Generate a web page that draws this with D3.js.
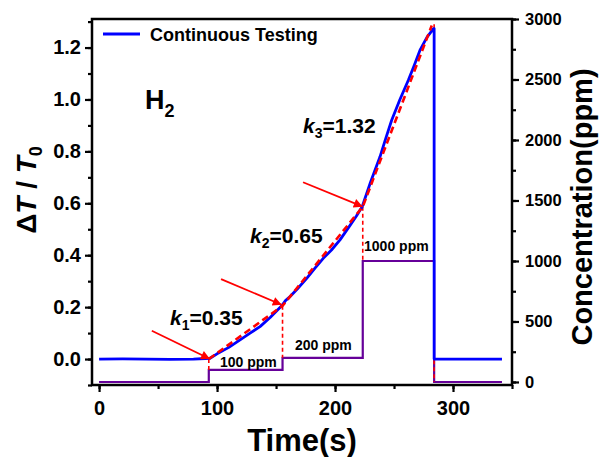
<!DOCTYPE html>
<html><head><meta charset="utf-8">
<script src="https://cdn.jsdelivr.net/npm/d3@7"></script>
<style>
body{margin:0;background:#fff;}
text{font-family:"Liberation Sans",Arial,sans-serif;font-weight:bold;}
</style></head>
<body><svg id="c" width="600" height="457"></svg>
<script>
// ---- data ----
const blueTime = [0,20,40,60,80,90,94,100,110,119.5,128,136.4,145,154.8,158,161.9,168,176,183,190,197,204.2,212,218,223,230,238.1,243,248,255,262.1,267,272,278,283.5,284,284,300,320,341.5];
const blueVal  = [0,0.001,0,-0.001,0,0.002,0.003,0.02,0.045,0.074,0.1,0.125,0.16,0.205,0.225,0.241,0.27,0.311,0.35,0.388,0.42,0.459,0.51,0.55,0.587,0.68,0.779,0.85,0.92,1.0,1.074,1.13,1.19,1.24,1.273,1.273,0,0,0,0];
const concTime = [0,93,93,155.5,155.5,223.5,223.5,284,284,341.5];
const concVal  = [0,0,100,100,200,200,1000,1000,0,0];
const fitTime = [93,155.5,223.5,282];
const fitVal  = [0,0.205,0.587,1.285];
const dropTime = [93,155.5,223.5,284];
const dropTop  = [0,0.205,0.587,1.29];
const dropBottomPpm = [100,200,1000,0];
const arrowFrom = [[44.7,0.109],[103.4,0.308],[172.9,0.681]];
const arrowTo   = [[94,0.0],[154.8,0.209],[223.5,0.587]];
const kLabels = ["1","2","3"];
const kValues = ["0.35","0.65","1.32"];
const kPos = [[60.2,0.132],[128,0.446],[172.9,0.869]];
const ppmLabels = ["100 ppm","200 ppm","1000 ppm"];
const ppmPos = [[102.5,126],[166,264],[224.6,1085]];
const xTicks = [0,100,200,300];
const xMinor = [0,50,100,150,200,250,300,350];
const yLTicks = [0,0.2,0.4,0.6,0.8,1.0,1.2];
const yLMinor = [-0.1,0,0.1,0.2,0.3,0.4,0.5,0.6,0.7,0.8,0.9,1.0,1.1,1.2,1.3];
const yRTicks = [0,500,1000,1500,2000,2500,3000];
const yRMinor = [0,250,500,750,1000,1250,1500,1750,2000,2250,2500,2750,3000];

// ---- layout ----
const L=92, R=512, T=19, B=385;
const svg = d3.select("#c");
const x = d3.scaleLinear().domain([-6,350]).range([L,R]);
const yL = d3.scaleLinear().domain([-0.1,1.31]).range([B,T]);
const yR = d3.scaleLinear().domain([-25,3000]).range([B,T]);

const blue="#0000ff", red="#ff0000", purple="#660099";

// axes
function styleAxis(g){
  g.select(".domain").remove();
  g.selectAll("line").attr("stroke","#000").attr("stroke-width",2.2);
  g.selectAll("text").attr("fill","#000");
}
svg.append("g").attr("transform",`translate(0,${B})`)
  .call(d3.axisBottom(x).tickValues(xMinor).tickSize(4).tickFormat("")).call(styleAxis);
svg.append("g").attr("transform",`translate(0,${B})`)
  .call(d3.axisBottom(x).tickValues(xTicks).tickSize(7).tickPadding(9).tickFormat(d3.format("d")))
  .call(styleAxis).selectAll("text").style("font-size","20px");
svg.append("g").attr("transform",`translate(${L},0)`)
  .call(d3.axisLeft(yL).tickValues(yLMinor).tickSize(4).tickFormat("")).call(styleAxis);
svg.append("g").attr("transform",`translate(${L},0)`)
  .call(d3.axisLeft(yL).tickValues(yLTicks).tickSize(7).tickPadding(4).tickFormat(d3.format(".1f")))
  .call(styleAxis).selectAll("text").style("font-size","20px");
svg.append("g").attr("transform",`translate(${R},0)`)
  .call(d3.axisRight(yR).tickValues(yRMinor).tickSize(4).tickFormat("")).call(styleAxis);
svg.append("g").attr("transform",`translate(${R},0)`)
  .call(d3.axisRight(yR).tickValues(yRTicks).tickSize(7).tickPadding(6).tickFormat(d3.format("d")))
  .call(styleAxis).selectAll("text").style("font-size","16.5px");

// frame
svg.append("rect").attr("x",L).attr("y",T).attr("width",R-L).attr("height",B-T)
  .attr("fill","none").attr("stroke","#000").attr("stroke-width",2.5);

// concentration
const concData = concTime.map((t,i)=>[t,concVal[i]]);
svg.append("path").datum(concData)
  .attr("d",d3.line().x(d=>x(d[0])).y(d=>yR(d[1])))
  .attr("fill","none").attr("stroke",purple).attr("stroke-width",2.2);

// red vertical dashed drops
dropTime.forEach((t,i)=>{
  svg.append("line").attr("x1",x(t)).attr("x2",x(t))
    .attr("y1",yL(dropTop[i])).attr("y2",yR(dropBottomPpm[i]))
    .attr("stroke",red).attr("stroke-width",1.6).attr("stroke-dasharray","4,3");
});

// blue data
const blueData = blueTime.map((t,i)=>[t,blueVal[i]]);
svg.append("path").datum(blueData)
  .attr("d",d3.line().x(d=>x(d[0])).y(d=>yL(d[1])))
  .attr("fill","none").attr("stroke",blue).attr("stroke-width",2.8).attr("stroke-linejoin","round");

// fit dashed
const fitData = fitTime.map((t,i)=>[t,fitVal[i]]);
svg.append("path").datum(fitData)
  .attr("d",d3.line().x(d=>x(d[0])).y(d=>yL(d[1])))
  .attr("fill","none").attr("stroke",red).attr("stroke-width",2.6).attr("stroke-dasharray","7,4");

// arrows
svg.append("defs").append("marker").attr("id","ah").attr("viewBox","0 0 10 10")
  .attr("refX",10).attr("refY",5).attr("markerWidth",13).attr("markerHeight",9)
  .attr("markerUnits","userSpaceOnUse").attr("orient","auto")
  .append("path").attr("d","M0,0 L10,5 L0,10 Z").attr("fill",red);
svg.selectAll("line.arrow").data(arrowFrom).join("line").attr("class","arrow")
  .attr("x1",d=>x(d[0])).attr("y1",d=>yL(d[1]))
  .attr("x2",(d,i)=>x(arrowTo[i][0])).attr("y2",(d,i)=>yL(arrowTo[i][1]))
  .attr("stroke",red).attr("stroke-width",1.8).attr("marker-end","url(#ah)");

// k labels
kPos.forEach((p,i)=>{
  const t = svg.append("text").attr("x",x(p[0])).attr("y",yL(p[1])).style("font-size","21px").attr("fill","#000");
  t.append("tspan").style("font-style","italic").text("k");
  t.append("tspan").attr("dy",5).style("font-size","14px").text(kLabels[i]);
  t.append("tspan").attr("dy",-5).text("="+kValues[i]);
});

// ppm labels
ppmLabels.forEach((s,i)=>{
  svg.append("text").attr("x",x(ppmPos[i][0])).attr("y",yR(ppmPos[i][1]))
    .style("font-size","14px").attr("fill","#000").text(s);
});

// H2
const h = svg.append("text").attr("x",x(39)).attr("y",yL(0.962)).style("font-size","27px").attr("fill","#000");
h.append("tspan").text("H");
h.append("tspan").attr("dy",8).style("font-size","18px").text("2");

// legend
svg.append("line").attr("x1",103).attr("x2",140).attr("y1",34).attr("y2",34).attr("stroke",blue).attr("stroke-width",2.8);
svg.append("text").attr("x",150).attr("y",41).style("font-size","18px").attr("fill","#000").text("Continuous Testing");

// axis titles
svg.append("text").attr("x",302).attr("y",451).attr("text-anchor","middle").style("font-size","31px").text("Time(s)");
const yl = svg.append("text").attr("transform","translate(36,190) rotate(-90)").attr("text-anchor","middle").style("font-size","28px");
yl.append("tspan").text("Δ");
yl.append("tspan").style("font-style","italic").text("T");
yl.append("tspan").text(" / ");
yl.append("tspan").style("font-style","italic").text("T");
yl.append("tspan").attr("dy",6).style("font-size","18px").text("0");
svg.append("text").attr("transform","translate(592,207) rotate(-90)").attr("text-anchor","middle").style("font-size","29px").text("Concentration(ppm)");
</script></body></html>
